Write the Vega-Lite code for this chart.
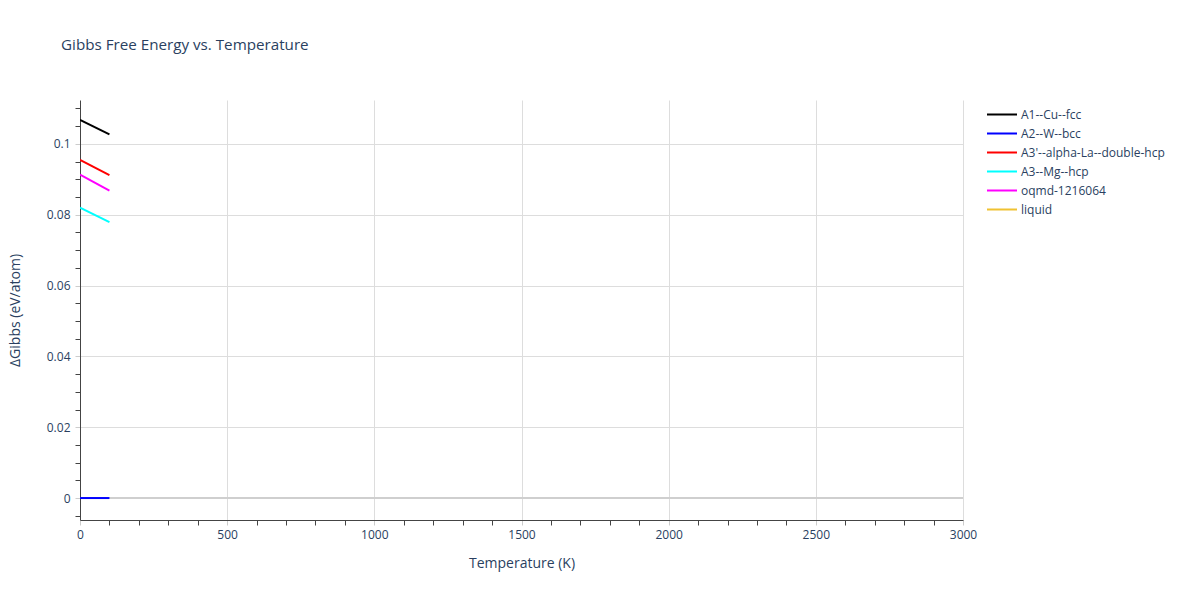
{
  "$schema": "https://vega.github.io/schema/vega-lite/v6.json",
  "width": 883,
  "height": 420,
  "autosize": {"type": "none"},
  "padding": {"left": 80, "top": 100, "right": 237, "bottom": 80},
  "background": "white",
  "config": {
    "font": "Open Sans",
    "view": {"stroke": null},
    "axis": {
      "labelFont": "Open Sans",
      "titleFont": "Open Sans",
      "labelFontSize": 12,
      "titleFontSize": 14,
      "titleFontWeight": "normal",
      "labelColor": "#2a3f5f",
      "titleColor": "#2a3f5f",
      "domainColor": "#444",
      "tickSize": 5,
      "tickCount": 200,
      "gridColor": "#dddddd"
    }
  },
  "title": {
    "text": "Gibbs Free Energy vs. Temperature",
    "anchor": "start",
    "frame": "group",
    "dx": -19,
    "offset": 47,
    "fontSize": 15.2,
    "fontWeight": "normal",
    "font": "Open Sans",
    "color": "#2a3f5f"
  },
  "data": {
    "values": [
      {"phase": "A1--Cu--fcc", "T": 0, "G": 0.1068},
      {"phase": "A1--Cu--fcc", "T": 100, "G": 0.1027},
      {"phase": "A2--W--bcc", "T": 0, "G": 0},
      {"phase": "A2--W--bcc", "T": 100, "G": 0},
      {"phase": "A3'--alpha-La--double-hcp", "T": 0, "G": 0.0955},
      {"phase": "A3'--alpha-La--double-hcp", "T": 100, "G": 0.0912},
      {"phase": "A3--Mg--hcp", "T": 0, "G": 0.0820},
      {"phase": "A3--Mg--hcp", "T": 100, "G": 0.0779},
      {"phase": "oqmd-1216064", "T": 0, "G": 0.0913},
      {"phase": "oqmd-1216064", "T": 100, "G": 0.0868}
    ]
  },
  "encoding": {
    "x": {
      "field": "T",
      "type": "quantitative",
      "title": "Temperature (K)",
      "scale": {"domain": [0, 3000], "nice": false, "zero": false},
      "axis": {
        "grid": true,
        "values": [0, 100, 200, 300, 400, 500, 600, 700, 800, 900, 1000, 1100, 1200, 1300, 1400, 1500, 1600, 1700, 1800, 1900, 2000, 2100, 2200, 2300, 2400, 2500, 2600, 2700, 2800, 2900, 3000],
        "labelExpr": "datum.value % 500 === 0 ? format(datum.value, 'd') : ''",
        "gridOpacity": {"condition": {"test": "datum.value % 500 === 0 && datum.value > 0", "value": 1}, "value": 0},
        "tickColor": {"condition": {"test": "datum.value % 500 === 0", "value": "#cccccc"}, "value": "#444"},
        "labelPadding": 4,
        "titlePadding": 16,
        "labelFlush": false,
        "labelOverlap": false
      }
    },
    "y": {
      "field": "G",
      "type": "quantitative",
      "title": "ΔGibbs (eV/atom)",
      "scale": {"domain": [-0.0062, 0.1124], "nice": false, "zero": false},
      "axis": {
        "grid": true,
        "values": [-0.005, 0, 0.005, 0.01, 0.015, 0.02, 0.025, 0.03, 0.035, 0.04, 0.045, 0.05, 0.055, 0.06, 0.065, 0.07, 0.075, 0.08, 0.085, 0.09, 0.095, 0.1, 0.105, 0.11],
        "labelExpr": "abs(datum.value * 50 - round(datum.value * 50)) < 0.000001 ? (abs(datum.value) < 0.000000001 ? '0' : format(datum.value, '.3~f')) : ''",
        "gridOpacity": {"condition": {"test": "abs(datum.value * 50 - round(datum.value * 50)) < 0.000001 && datum.value > 0.001", "value": 1}, "value": 0},
        "tickColor": {"condition": {"test": "abs(datum.value * 50 - round(datum.value * 50)) < 0.000001", "value": "#cccccc"}, "value": "#444"},
        "labelPadding": 5,
        "titlePadding": 24,
        "labelOverlap": false,
        "labelFlush": false
      }
    }
  },
  "layer": [
    {
      "mark": {"type": "rule", "color": "#cfcfcf", "strokeWidth": 2},
      "encoding": {
        "y": {"datum": 0, "type": "quantitative"},
        "x": {"datum": 0, "type": "quantitative"},
        "x2": {"datum": 3000}
      }
    },
    {
      "mark": {"type": "line", "strokeWidth": 2, "clip": true},
      "encoding": {
        "color": {
          "field": "phase",
          "type": "nominal",
          "scale": {
            "domain": ["A1--Cu--fcc", "A2--W--bcc", "A3'--alpha-La--double-hcp", "A3--Mg--hcp", "oqmd-1216064", "liquid"],
            "range": ["#000000", "#0000ff", "#ff0000", "#00ffff", "#ff00ff", "#f0c232"]
          },
          "legend": {
            "title": null,
            "orient": "none",
            "legendX": 906,
            "legendY": 5,
            "padding": 0,
            "symbolType": "stroke",
            "symbolSize": 900,
            "symbolStrokeWidth": 2,
            "clipHeight": 19,
            "rowPadding": 0,
            "labelOffset": 3,
            "labelFont": "Open Sans",
            "labelFontSize": 12,
            "labelColor": "#2a3f5f",
            "labelLimit": 250
          }
        }
      }
    }
  ]
}
